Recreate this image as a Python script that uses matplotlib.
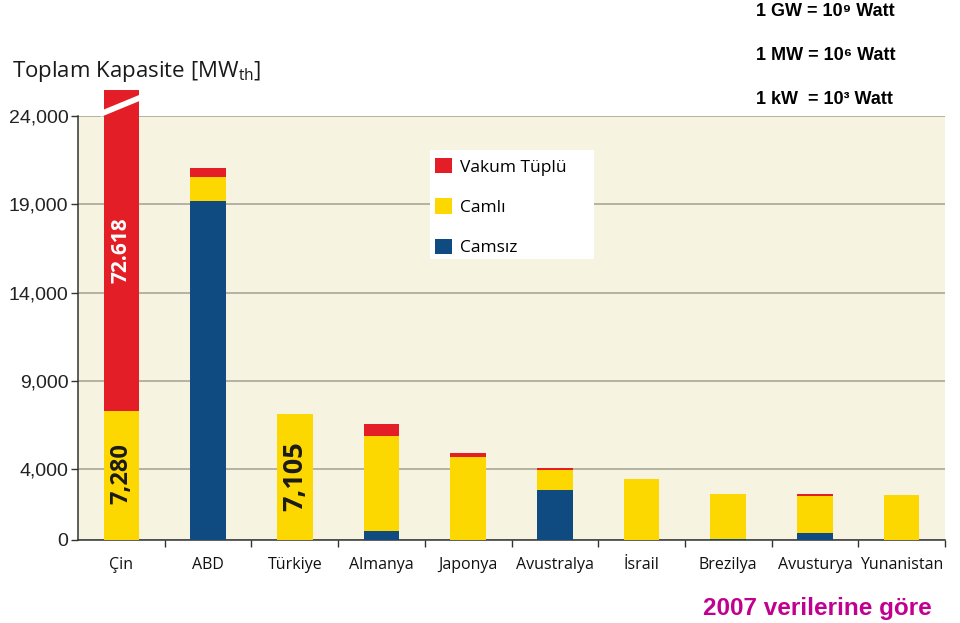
import matplotlib
matplotlib.use("Agg")
import matplotlib.pyplot as plt
from matplotlib.patches import Patch, Polygon, Rectangle
import numpy as np

# ---- data ----
categories = ['Çin', 'ABD', 'Türkiye', 'Almanya', 'Japonya', 'Avustralya',
              'İsrail', 'Brezilya', 'Avusturya', 'Yunanistan']
camsiz = [0, 19200, 0, 510, 0, 2830, 0, 50, 415, 0]
camli = [7280, 1360, 7105, 5380, 4720, 1130, 3450, 2540, 2075, 2550]
vakum = [72618, 480, 0, 670, 180, 110, 0, 0, 100, 0]
yticks = [0, 4000, 9000, 14000, 19000, 24000]
ytick_labels = ['0', '4,000', '9,000', '14,000', '19,000', '24,000']
label_cin_vakum = '72.618'
label_cin_camli = '7,280'
label_tr_camli = '7,105'

# ---- style ----
RED = '#e31e26'
YEL = '#fdd800'
BLUE = '#0f4a80'
BG = '#f6f3e1'
GRID = '#aaa79a'
DISPLAY_CAP = 25500  # truncated display height for the broken Çin bar

plt.rcParams['mathtext.fontset'] = 'custom'
plt.rcParams['mathtext.rm'] = 'Open Sans'
plt.rcParams['mathtext.it'] = 'Open Sans'

fig = plt.figure(figsize=(9.6, 6.23), dpi=100)
W, H = 960, 623
ax = fig.add_axes([78 / W, 1 - 540 / H, (945 - 78) / W, (540 - 116) / H])
ax.set_facecolor(BG)

x = np.arange(len(categories))
bw = 0.41
camsiz_a = np.array(camsiz, float)
camli_a = np.array(camli, float)
vakum_a = np.array(vakum, float)
vak_disp = np.minimum(camsiz_a + camli_a + vakum_a, DISPLAY_CAP) - camsiz_a - camli_a

ax.bar(x, camsiz_a, bw, color=BLUE, zorder=3, linewidth=0)
ax.bar(x, camli_a, bw, bottom=camsiz_a, color=YEL, zorder=3, linewidth=0)
ax.bar(x, vak_disp, bw, bottom=camsiz_a + camli_a, color=RED, zorder=3,
       linewidth=0, clip_on=False)

# break mark on the Çin bar
x0 = x[0] - bw / 2 - 0.03
x1 = x[0] + bw / 2 + 0.03
brk = Polygon([[x0, 23950], [x1, 24900], [x1, 25250], [x0, 24300]],
              closed=True, facecolor='white', edgecolor='none', zorder=4, clip_on=False)
ax.add_patch(brk)

# value labels
ax.text(x[0], 16400, label_cin_vakum, rotation=90, ha='center', va='center',
        color='white', fontsize=15, fontweight='bold', family='Open Sans', zorder=5)
ax.text(x[0], 3750, label_cin_camli, rotation=90, ha='center', va='center',
        color='#1a1a1a', fontsize=17, fontweight='bold', family='Open Sans', zorder=5)
ax.text(x[2], 3600, label_tr_camli, rotation=90, ha='center', va='center',
        color='#1a1a1a', fontsize=19.5, fontweight='bold', family='Open Sans', zorder=5)

ax.set_xlim(-0.5, len(categories) - 0.5)
ax.set_ylim(0, 24000)
ax.set_yticks(yticks)
ax.set_yticklabels(ytick_labels, family='Liberation Sans', fontsize=14, color='#222222')
ax.yaxis.grid(True, color=GRID, linewidth=1.2, zorder=1)
ax.set_axisbelow(True)
ax.tick_params(axis='y', length=5, width=1, color='#333333', pad=2)

ax.set_xticks(x)
ax.set_xticklabels(categories, family='Open Sans', fontsize=11.5, color='#111111')
ax.tick_params(axis='x', which='major', length=0, pad=12)
ax.set_xticks(np.arange(len(categories)) + 0.5, minor=True)
ax.tick_params(axis='x', which='minor', length=5, width=1, color='#333333')

for s in ['top', 'right']:
    ax.spines[s].set_visible(False)
for s in ['left', 'bottom']:
    ax.spines[s].set_color('#333333')
    ax.spines[s].set_linewidth(1.1)

# legend box
box = Rectangle((430 / W, 1 - 259 / H), 164 / W, 109 / H, transform=fig.transFigure,
                facecolor='white', edgecolor='none', zorder=5, clip_on=False)
ax.add_patch(box)
handles = [Patch(facecolor=RED, edgecolor='none'),
           Patch(facecolor=YEL, edgecolor='none'),
           Patch(facecolor=BLUE, edgecolor='none')]
leg = ax.legend(handles, ['Vakum Tüplü', 'Camlı', 'Camsız'],
                loc='upper left', bbox_to_anchor=(428 / W, 1 - 151 / H),
                bbox_transform=fig.transFigure, frameon=False,
                prop={'family': 'Open Sans', 'size': 12.5}, handlelength=1.0,
                handleheight=1.0, handletextpad=0.45, labelspacing=1.3,
                borderpad=0.4, borderaxespad=0)
leg.set_zorder(7)

# title
fig.text(12 / W, 1 - 72 / H, r'Toplam Kapasite [MW$_{\mathrm{th}}$]', family='Open Sans',
         fontsize=16, color='#1a1a1a', va='center', ha='left')

# unit notes
unit_kw = dict(family=['Liberation Sans', 'DejaVu Sans'], fontsize=13,
               fontweight='bold', color='black', ha='left', va='center')
fig.text(756 / W, 1 - 11 / H, '1 GW = 10⁹ Watt', **unit_kw)
fig.text(756 / W, 1 - 55 / H, '1 MW = 10⁶ Watt', **unit_kw)
fig.text(756 / W, 1 - 99 / H, '1 kW  = 10³ Watt', **unit_kw)

fig.text(703 / W, 1 - 608 / H, '2007 verilerine göre', family='Liberation Sans',
         fontsize=17.5, fontweight='bold', color='#c0008f', ha='left', va='center')

fig.savefig('out.png', dpi=100, facecolor='white')
